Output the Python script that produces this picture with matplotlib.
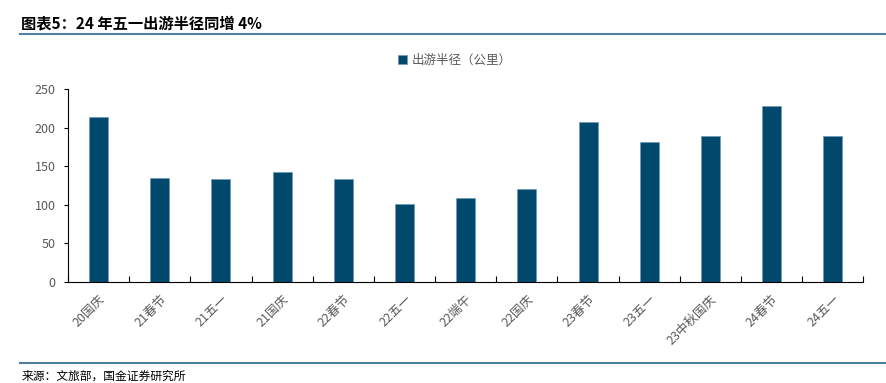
import matplotlib.pyplot as plt
import numpy as np

plt.rcParams['font.family'] = ['Noto Sans CJK SC', 'DejaVu Sans']

# data
categories = ['20国庆', '21春节', '21五一', '21国庆', '22春节', '22五一', '22端午',
              '22国庆', '23春节', '23五一', '23中秋国庆', '24春节', '24五一']
radius_km = [214, 135, 134, 142, 133, 101, 109, 120, 208, 181, 189, 228, 189]
y_ticks = [0, 50, 100, 150, 200, 250]

bar_color = '#00496D'
grey = '#595959'

fig = plt.figure(figsize=(8.87, 3.83), dpi=100)
ax = fig.add_axes([0.0767, 0.2645, 0.8966, 0.5023])

x = np.arange(len(categories))
ax.bar(x, radius_km, width=0.31, color=bar_color, edgecolor='#6E9BB5',
       linewidth=0.5, label='出游半径（公里）', zorder=2)

ax.set_xlim(-0.5, len(categories) - 0.5)
ax.set_ylim(0, 250)
ax.set_yticks(y_ticks)
ax.tick_params(axis='y', labelsize=9, colors=grey, length=3, width=0.8,
               direction='out', pad=6)
ax.tick_params(axis='y', color='black')

# category labels between boundary ticks
ax.set_xticks(x)
ax.set_xticklabels(categories, rotation=45, ha='right', rotation_mode='anchor',
                   fontsize=9, color=grey)
ax.tick_params(axis='x', length=0, pad=8)
ax.set_xticks(np.arange(len(categories) + 1) - 0.5, minor=True)
ax.tick_params(axis='x', which='minor', length=4, width=0.8, direction='in',
               color='black')

for s in ['top', 'right']:
    ax.spines[s].set_visible(False)
ax.spines['left'].set_color('black')
ax.spines['bottom'].set_color('black')
ax.spines['left'].set_linewidth(0.8)
ax.spines['bottom'].set_linewidth(0.8)

leg = fig.legend(loc='center', bbox_to_anchor=(0.513, 0.843), frameon=False,
                 fontsize=9, handlelength=0.7, handleheight=0.7,
                 handletextpad=0.4)
for t in leg.get_texts():
    t.set_color(grey)

# title, rules and source
fig.text(0.024, 0.94, '图表5：24 年五一出游半径同增 4%', fontsize=11,
         fontweight='bold', style='italic', color='black', va='center')
fig.add_artist(plt.Line2D([0.022, 1.0], [0.91, 0.91], color='#4F7FA0',
                          linewidth=1.5, transform=fig.transFigure))
fig.add_artist(plt.Line2D([0.022, 1.0], [0.053, 0.053], color='#4F7FA0',
                          linewidth=1.5, transform=fig.transFigure))
fig.text(0.024, 0.018, '来源：文旅部，国金证券研究所', fontsize=8.5,
         color='black', va='center')

fig.savefig('out.png', dpi=100)
